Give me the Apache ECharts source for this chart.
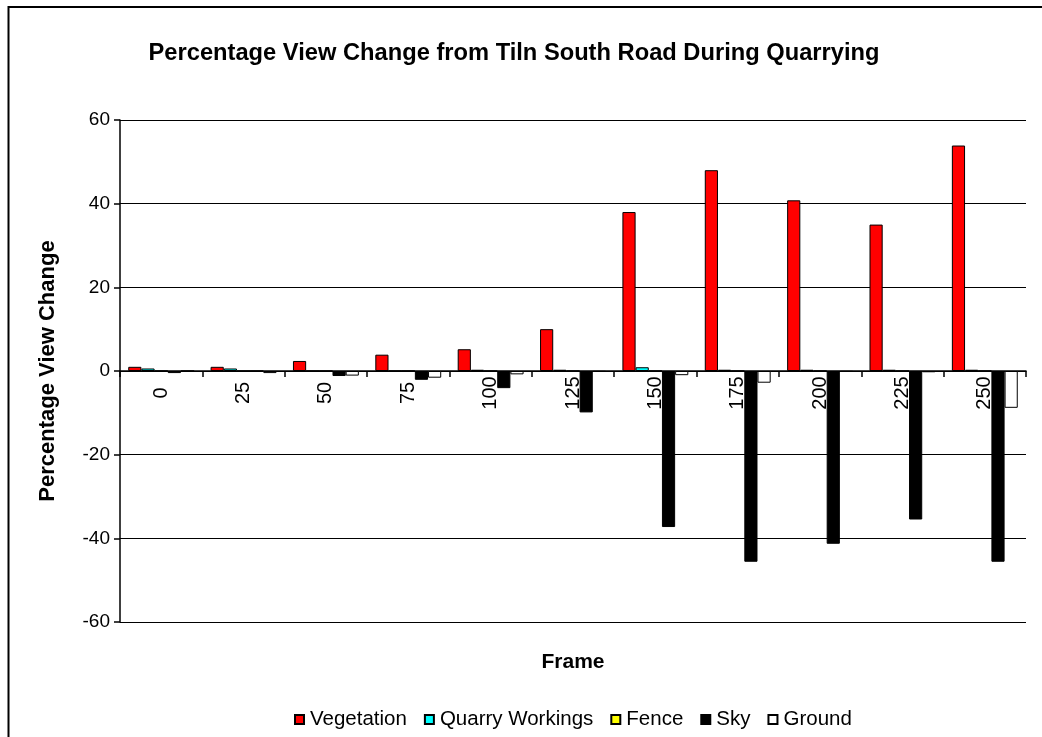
<!DOCTYPE html>
<html>
<head>
<meta charset="utf-8">
<script src="https://cdn.jsdelivr.net/npm/echarts@6/dist/echarts.min.js"></script>
<style>
  html, body { margin: 0; padding: 0; background: #fff; }
  #chart { width: 1042px; height: 737px; }
</style>
</head>
<body>
<div id="chart"></div>
<script>
// Frame numbers along the road
const frames = ['0', '25', '50', '75', '100', '125', '150', '175', '200', '225', '250'];

// Percentage view change per view component
const vegetation     = [1.0, 1.0, 2.4, 3.9, 5.2, 10.0, 38.0, 48.0, 40.8, 35.0, 53.9];
const quarryWorkings = [0.6, 0.6, 0, 0, 0.3, 0.3, 0.9, 0.3, 0.3, 0.3, 0.3];
const fence          = [0, 0, 0, 0, 0, 0, 0, 0, 0, 0, 0];
const sky            = [-0.5, 0, -1.2, -2.1, -4.1, -9.9, -37.3, -45.6, -41.3, -35.5, -45.6];
const ground         = [0, -0.5, -1.1, -1.6, -0.8, -0.2, -1.0, -2.8, -0.2, -0.3, -8.8];

const yMin = -60, yMax = 60, yStep = 20;

const font = 'Liberation Sans, Arial, Helvetica, sans-serif';

const gridTop = 120, gridBottom = 115, chartHeight = 737;
// the category axis sits on the zero line, which is the middle of the symmetric value range
const plotHeight = chartHeight - gridTop - gridBottom;
const zeroOffset = -plotHeight * (0 - yMin) / (yMax - yMin);

function barSeries(name, data, color) {
  return {
    name: name,
    type: 'bar',
    data: data,
    barGap: '0%',
    barCategoryGap: '20%',
    itemStyle: { color: color, borderColor: '#000', borderWidth: 1 },
    emphasis: { disabled: true }
  };
}

const chart = echarts.init(document.getElementById('chart'), null, { renderer: 'canvas' });

chart.setOption({
  animation: false,
  backgroundColor: '#fff',
  title: {
    text: 'Percentage View Change from Tiln South Road During Quarrying',
    left: 509,
    textAlign: 'center',
    top: 36,
    textStyle: { fontFamily: font, fontWeight: 'bold', fontSize: 23.7, color: '#000' }
  },
  grid: { left: 120, right: 16, top: gridTop, bottom: gridBottom, outerBoundsMode: 'none', containLabel: false },
  legend: {
    bottom: 2,
    left: 289,
    icon: 'rect',
    itemWidth: 9,
    itemHeight: 9,
    itemGap: 17,
    textStyle: { fontFamily: font, fontSize: 20.5, color: '#000', padding: [0, 0, 0, 1] },
    data: ['Vegetation', 'Quarry Workings', 'Fence', 'Sky', 'Ground']
  },
  xAxis: {
    type: 'category',
    data: frames,
    position: 'bottom',
    offset: zeroOffset,
    name: 'Frame',
    nameLocation: 'middle',
    nameGap: 281,
    nameTextStyle: { fontFamily: font, fontWeight: 'bold', fontSize: 21, color: '#000' },
    axisLine: { onZero: false, lineStyle: { color: '#000', width: 1.5 } },
    axisTick: { show: true, length: 6, lineStyle: { color: '#000', width: 1.5 } },
    axisLabel: {
      rotate: 90,
      align: 'center',
      verticalAlign: 'middle',
      margin: 22,
      fontFamily: font,
      fontSize: 20,
      color: '#000'
    },
    splitLine: { show: false }
  },
  yAxis: {
    type: 'value',
    min: yMin,
    max: yMax,
    interval: yStep,
    name: 'Percentage View Change',
    nameLocation: 'middle',
    nameRotate: 90,
    nameGap: 61,
    nameTextStyle: { fontFamily: font, fontWeight: 'bold', fontSize: 22, color: '#000' },
    axisLine: { show: true, lineStyle: { color: '#000', width: 1.5 } },
    axisTick: { show: true, length: 6, lineStyle: { color: '#000', width: 1.5 } },
    axisLabel: { fontFamily: font, fontSize: 19, color: '#000', margin: 10 },
    splitLine: { show: true, lineStyle: { color: '#000', width: 1.2 } }
  },
  series: [
    barSeries('Vegetation', vegetation, '#ff0000'),
    barSeries('Quarry Workings', quarryWorkings, '#00ffff'),
    barSeries('Fence', fence, '#ffff00'),
    barSeries('Sky', sky, '#000000'),
    barSeries('Ground', ground, '#ffffff')
  ],
  graphic: [{
    type: 'rect',
    silent: true,
    shape: { x: 8.5, y: 7, width: 1100, height: 800 },
    style: { fill: 'none', stroke: '#000', lineWidth: 2 }
  }]
});
</script>
</body>
</html>
